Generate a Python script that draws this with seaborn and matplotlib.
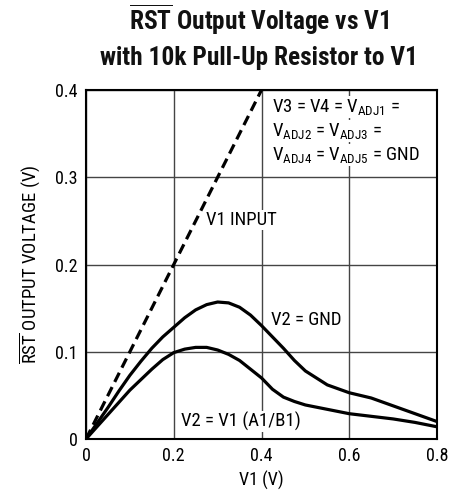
import matplotlib
matplotlib.use("Agg")
import matplotlib.pyplot as plt
import seaborn as sns
import pandas as pd

# ---- data ----
v1 = [0.0, 0.025, 0.05, 0.075, 0.1, 0.125, 0.15, 0.175, 0.2, 0.225, 0.25, 0.275, 0.3, 0.325,
      0.35, 0.375, 0.4, 0.425, 0.45, 0.475, 0.5, 0.55, 0.6, 0.65, 0.7, 0.75, 0.8]
v2_gnd = [0.0, 0.018, 0.036, 0.055, 0.073, 0.089, 0.104, 0.117, 0.128, 0.139, 0.148, 0.154, 0.157, 0.156,
          0.151, 0.142, 0.130, 0.117, 0.104, 0.090, 0.078, 0.062, 0.053, 0.047, 0.038, 0.029, 0.020]
v2_v1 = [0.0, 0.014, 0.028, 0.042, 0.056, 0.068, 0.080, 0.091, 0.099, 0.103, 0.105, 0.105, 0.102, 0.097,
         0.090, 0.080, 0.070, 0.057, 0.048, 0.043, 0.039, 0.034, 0.029, 0.026, 0.023, 0.019, 0.014]
input_x = [0.0, 0.4]
input_y = [0.0, 0.4]
x_ticks = [0, 0.2, 0.4, 0.6, 0.8]
x_ticklabels = ["0", "0.2", "0.4", "0.6", "0.8"]
y_ticks = [0, 0.1, 0.2, 0.3, 0.4]
y_ticklabels = ["0", "0.1", "0.2", "0.3", "0.4"]

sns.set_theme(style="white")
FONT = ["Roboto Condensed", "Liberation Sans Narrow", "Roboto", "DejaVu Sans"]
plt.rcParams["font.family"] = FONT
plt.rcParams["mathtext.fontset"] = "custom"
plt.rcParams["mathtext.rm"] = "Roboto Condensed"
plt.rcParams["mathtext.it"] = "Roboto Condensed"
plt.rcParams["mathtext.bf"] = "Roboto Condensed:bold"

fig = plt.figure(figsize=(4.6, 4.96), dpi=100)
ax = fig.add_axes([86 / 460, 1 - 439 / 496, (437 - 86) / 460, (439 - 90) / 496])

df_gnd = pd.DataFrame({"x": v1, "y": v2_gnd})
df_v1 = pd.DataFrame({"x": v1, "y": v2_v1})
df_in = pd.DataFrame({"x": input_x, "y": input_y})

sns.lineplot(data=df_gnd, x="x", y="y", ax=ax, color="black", lw=2.3, zorder=3)
sns.lineplot(data=df_v1, x="x", y="y", ax=ax, color="black", lw=2.3, zorder=3)
sns.lineplot(data=df_in, x="x", y="y", ax=ax, color="black", lw=2.3, zorder=3,
             dashes=False, linestyle=(0, (3.2, 1.8)))

ax.set_xlim(0, 0.8)
ax.set_ylim(0, 0.4)
ax.set_xticks(x_ticks)
ax.set_xticklabels(x_ticklabels)
ax.set_yticks(y_ticks)
ax.set_yticklabels(y_ticklabels)
ax.tick_params(axis="both", length=0, labelsize=13, colors="black", pad=6)
ax.grid(True, color="#444444", lw=1.0, zorder=1)
for s in ax.spines.values():
    s.set_color("black")
    s.set_linewidth(1.5)
    s.set_zorder(4)

ax.set_xlabel("V1 (V)", fontsize=13, color="black", labelpad=4)
ax.set_ylabel(r"$\overline{\mathrm{RST}}$ OUTPUT VOLTAGE (V)", fontsize=13.5, color="black", labelpad=9)

bb = dict(facecolor="white", edgecolor="none", pad=1.0)
tk = dict(fontsize=13.5, color="black", zorder=2)
ax.text(0.424, 0.392, r"V3 = V4 = V$_{\mathrm{ADJ1}}$ =", va="top", ha="left", bbox=bb, **tk)
ax.text(0.424, 0.3645, r"V$_{\mathrm{ADJ2}}$ = V$_{\mathrm{ADJ3}}$ =", va="top", ha="left", bbox=bb, **tk)
ax.text(0.424, 0.337, r"V$_{\mathrm{ADJ4}}$ = V$_{\mathrm{ADJ5}}$ = GND", va="top", ha="left", bbox=bb, **tk)
ax.text(0.273, 0.251, "V1 INPUT", va="center", ha="left", bbox=bb, **tk)
ax.text(0.422, 0.136, "V2 = GND", va="center", ha="left", bbox=bb, **tk)
ax.text(0.216, 0.020, "V2 = V1 (A1/B1)", va="center", ha="left", bbox=bb, **tk)

fig.text(259 / 460, 1 - 30 / 496, r"$\overline{\mathbf{RST}}$ Output Voltage vs V1",
         ha="center", va="baseline", fontsize=18.3, fontweight="bold", color="#111111")
fig.text(259 / 460, 1 - 65 / 496, "with 10k Pull-Up Resistor to V1",
         ha="center", va="baseline", fontsize=18.3, fontweight="bold", color="#111111")

fig.savefig("out.png", dpi=100, facecolor="white")
